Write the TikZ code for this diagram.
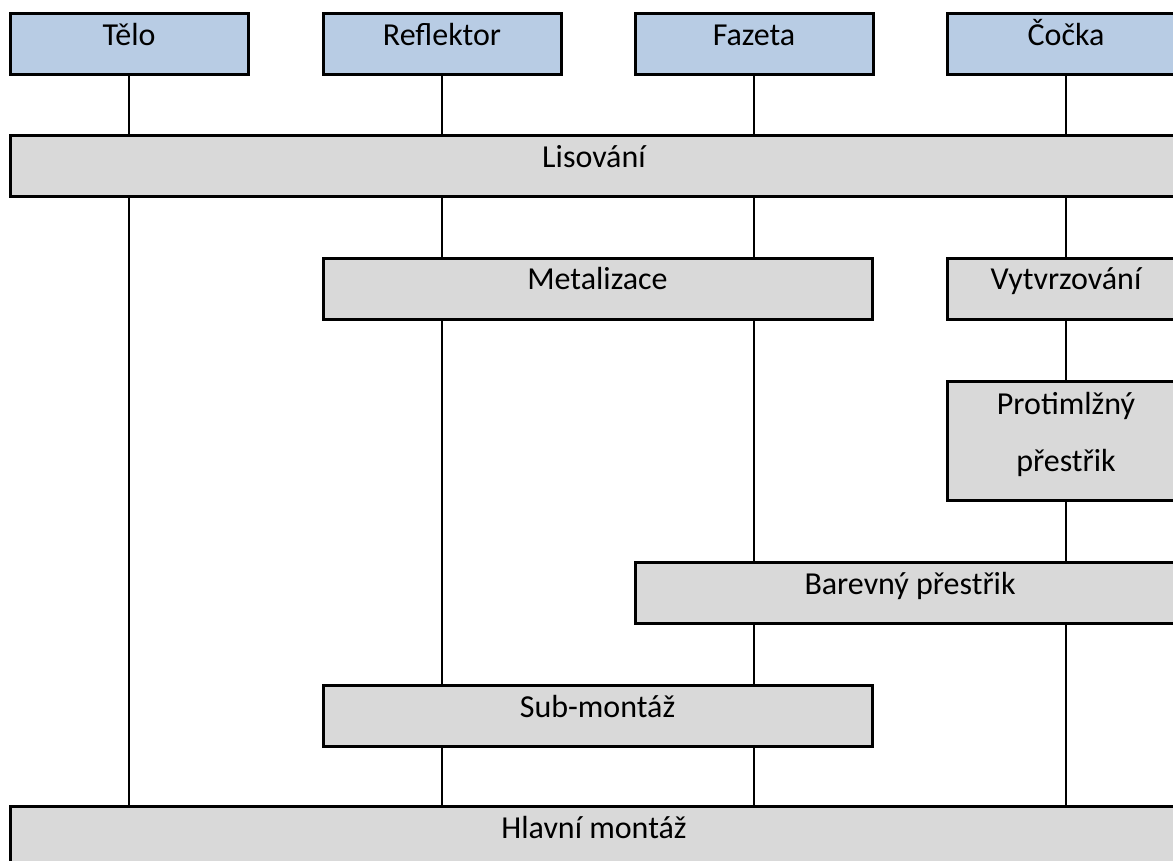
\documentclass[tikz,border=0pt]{standalone}
\usepackage{fontspec}
\setmainfont{Carlito}
\definecolor{stepgray}{HTML}{D9D9D9}
\definecolor{partblue}{HTML}{B8CCE4}
\begin{document}
\begin{tikzpicture}[x=0.5pt,y=-0.5pt,
  stepbox/.style={draw,line width=1.5pt,fill=stepgray,inner sep=0pt,
    font=\fontsize{16}{28.5}\selectfont,text height=0.75em,text depth=0.65em,
    minimum height=30.5pt},
  partbox/.style={stepbox,fill=partblue,minimum width=119pt},
  link/.style={line width=1pt}]
\clip (0,0) rectangle (1173,861);
% parts
\node[partbox] (telo) at (129,44.5) {Tělo};
\node[partbox] (refl) at (442,44.5) {Reflektor};
\node[partbox] (faz) at (754,44.5) {Fazeta};
\node[partbox] (cocka) at (1066,44.5) {Čočka};
% process steps
\node[stepbox,minimum width=584pt] (lis) at (594,166.5) {Lisování};
\node[stepbox,minimum width=274.5pt] (met) at (597.5,289) {Metalizace};
\node[stepbox,minimum width=119pt] (vyt) at (1066,289) {Vytvrzování};
\node[stepbox,minimum width=119pt,minimum height=59.5pt,align=center,
  text height=,text depth=] (prot) at (1066,440.5)
  {Protimlžný\\přestřik\rule[-8.5pt]{0pt}{0pt}};
\node[stepbox,minimum width=275pt] (bar) at (910,593) {Barevný přestřik};
\node[stepbox,minimum width=274.5pt] (sub) at (597.5,716) {Sub-montáž};
\node[stepbox,minimum width=584pt,minimum height=31pt] (hlav) at (594,837) {Hlavní montáž};
% connections
\foreach \p in {telo,refl,faz,cocka}
  \draw[link] (\p.south) -- (\p.south |- lis.north);
\draw[link] (telo.south |- lis.south) -- (telo.south |- hlav.north);
\draw[link] (refl.south |- lis.south) -- (refl.south |- met.north);
\draw[link] (faz.south |- lis.south) -- (faz.south |- met.north);
\draw[link] (vyt.north |- lis.south) -- (vyt.north);
\draw[link] (refl.south |- met.south) -- (refl.south |- sub.north);
\draw[link] (faz.south |- met.south) -- (faz.south |- bar.north);
\draw[link] (vyt.south) -- (prot.north);
\draw[link] (prot.south) -- (prot.south |- bar.north);
\draw[link] (faz.south |- bar.south) -- (faz.south |- sub.north);
\draw[link] (cocka.south |- bar.south) -- (cocka.south |- hlav.north);
\draw[link] (refl.south |- sub.south) -- (refl.south |- hlav.north);
\draw[link] (faz.south |- sub.south) -- (faz.south |- hlav.north);
\end{tikzpicture}
\end{document}
